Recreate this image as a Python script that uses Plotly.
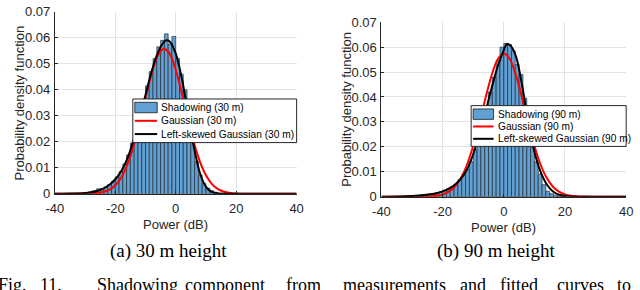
import numpy as np
import plotly.graph_objects as go

# ---------------- data ----------------
bin_width = 1.25
bin_centers = np.arange(-35.625, 20, 1.25)

hist_30m = [0.0001, 0.0001, 0.0002, 0.0002, 0.0003, 0.0005, 0.0008, 0.0012, 0.0019, 0.0020,
            0.0026, 0.0036, 0.0048, 0.0065, 0.0085, 0.0115, 0.0150, 0.0195, 0.0240, 0.0300,
            0.0350, 0.0415, 0.0470, 0.0520, 0.0565, 0.0590, 0.0615, 0.0575, 0.0605, 0.0520,
            0.0460, 0.0400, 0.0300, 0.0205, 0.0125, 0.0072, 0.0040, 0.0022, 0.0012, 0.0006,
            0.0003, 0.0002, 0.0001, 0.0001, 0.0000]

hist_90m = [0.0000, 0.0001, 0.0001, 0.0002, 0.0002, 0.0004, 0.0004, 0.0006, 0.0008, 0.0009,
            0.0010, 0.0016, 0.0020, 0.0026, 0.0030, 0.0040, 0.0050, 0.0068, 0.0088, 0.0110,
            0.0140, 0.0190, 0.0230, 0.0285, 0.0360, 0.0420, 0.0480, 0.0545, 0.0600, 0.0615,
            0.0610, 0.0585, 0.0530, 0.0490, 0.0395, 0.0290, 0.0200, 0.0140, 0.0090, 0.0048,
            0.0022, 0.0012, 0.0006, 0.0003, 0.0001]

gauss_30m_x = [-40, -30, -26, -24, -22, -20, -18, -16, -14, -12, -10, -8, -6, -4, -2, 0,
               2, 4, 6, 8, 10, 12, 14, 16, 18, 20, 22, 26, 30, 40]
gauss_30m_y = [0, 0.00003, 0.00027, 0.00068, 0.00155, 0.00327, 0.0063, 0.0112, 0.0181, 0.0270,
               0.0368, 0.0461, 0.0530, 0.0558, 0.0539, 0.0477, 0.0388, 0.0289, 0.0197, 0.0124,
               0.0071, 0.00375, 0.00181, 0.0008, 0.00033, 0.00012, 0.00004, 0, 0, 0]

skew_30m_x = [-40, -34, -30, -28, -26, -24, -22, -20, -18, -16, -14, -12, -10, -8, -6, -4, -3,
              -2, 0, 2, 4, 6, 8, 10, 12, 14, 16, 20, 40]
skew_30m_y = [0, 0.0001, 0.0003, 0.0006, 0.0011, 0.0020, 0.0034, 0.0056, 0.0088, 0.0135,
              0.0205, 0.0290, 0.0380, 0.0470, 0.0540, 0.0582, 0.0590, 0.0586, 0.0540, 0.0445,
              0.0315, 0.0180, 0.0080, 0.0027, 0.0007, 0.0001, 0, 0, 0]

gauss_90m_x = [-40, -30, -26, -24, -22, -20, -18, -16, -14, -12, -10, -8, -6, -4, -2, 0,
               2, 4, 6, 8, 10, 12, 14, 16, 18, 20, 22, 24, 26, 30, 40]
gauss_90m_y = [0, 0, 0.00005, 0.00015, 0.00038, 0.00091, 0.0020, 0.00406, 0.00755, 0.0129,
               0.0204, 0.0296, 0.0395, 0.0486, 0.0551, 0.0574, 0.0551, 0.0486, 0.0395, 0.0296,
               0.0204, 0.0129, 0.00755, 0.00406, 0.0020, 0.00091, 0.00038, 0.00015, 0.00005, 0, 0]

skew_90m_x = [-40, -34, -30, -26, -22, -20, -18, -16, -14, -12, -10, -8, -6, -4, -2, 0, 1,
              2, 4, 6, 8, 10, 12, 14, 16, 18, 20, 22, 24, 40]
skew_90m_y = [0, 0.0001, 0.0003, 0.0007, 0.0014, 0.0021, 0.0032, 0.0048, 0.0072, 0.0110,
              0.0170, 0.0250, 0.0340, 0.0435, 0.0522, 0.0588, 0.0612, 0.0608, 0.0562, 0.0445,
              0.0300, 0.0180, 0.0100, 0.0050, 0.0022, 0.0008, 0.0003, 0.0001, 0, 0]

x_tickvals = [-40, -20, 0, 20, 40]
x_ticktext = ["-40", "-20", "0", "20", "40"]
y_tickvals = [0, 0.01, 0.02, 0.03, 0.04, 0.05, 0.06, 0.07]
y_ticktext = ["0", "0.01", "0.02", "0.03", "0.04", "0.05", "0.06", "0.07"]

labels_30m = ["Shadowing (30 m)", "Gaussian (30 m)", "Left-skewed Gaussian (30 m)"]
labels_90m = ["Shadowing (90 m)", "Gaussian (90 m)", "Left-skewed Gaussian (90 m)"]
captions = ["(a) 30 m height", "(b) 90 m height"]
fig_caption_words = ["Fig.", "11.", "Shadowing", "component", "from", "measurements",
                     "and", "fitted", "curves", "to"]

# ---------------- styling ----------------
W, H = 640, 290
BAR_COLOR = "rgb(96,160,212)"
AX_COLOR = "#262626"
GRID_COLOR = "#e3e3e3"
SANS = "Liberation Sans, Arial, sans-serif"
SERIF = "Liberation Serif, Times New Roman, serif"


def px(x):
    return x / W


def py(y):
    return 1 - y / H


fig = go.Figure()

panels = [
    dict(xa="x", ya="y", hist=hist_30m, gx=gauss_30m_x, gy=gauss_30m_y, sx=skew_30m_x, sy=skew_30m_y),
    dict(xa="x2", ya="y2", hist=hist_90m, gx=gauss_90m_x, gy=gauss_90m_y, sx=skew_90m_x, sy=skew_90m_y),
]

for p in panels:
    fig.add_trace(go.Bar(x=bin_centers, y=p["hist"], width=bin_width,
                         marker=dict(color=BAR_COLOR, line=dict(color="#1a1a1a", width=0.6)),
                         xaxis=p["xa"], yaxis=p["ya"], showlegend=False, hoverinfo="skip"))
    fig.add_trace(go.Scatter(x=p["gx"], y=p["gy"], mode="lines",
                             line=dict(color="#ff0000", width=2, shape="spline", smoothing=0.8),
                             xaxis=p["xa"], yaxis=p["ya"], showlegend=False, hoverinfo="skip"))
    fig.add_trace(go.Scatter(x=p["sx"], y=p["sy"], mode="lines",
                             line=dict(color="#000000", width=2, shape="spline", smoothing=0.8),
                             xaxis=p["xa"], yaxis=p["ya"], showlegend=False, hoverinfo="skip"))

# axes geometry (pixels)
geo = [dict(x0=47, x1=295, ytop=5, ybot=197), dict(x0=382, x1=633, ytop=16, ybot=200)]

axis_common = dict(showgrid=True, gridcolor=GRID_COLOR, gridwidth=1, zeroline=False,
                   showline=True, linecolor=AX_COLOR, linewidth=1, ticks="inside",
                   ticklen=3, tickcolor=AX_COLOR, tickfont=dict(family=SANS, size=13, color=AX_COLOR))

layout_axes = {}
for i, g in enumerate(geo):
    sfx = "" if i == 0 else "2"
    layout_axes["xaxis" + sfx] = dict(axis_common, domain=[px(g["x0"]), px(g["x1"])],
                                      range=[-40, 40], tickvals=x_tickvals, ticktext=x_ticktext,
                                      anchor="y" + sfx, ticklabelstandoff=3)
    layout_axes["yaxis" + sfx] = dict(axis_common, domain=[py(g["ybot"]), py(g["ytop"])],
                                      range=[0, 0.07], tickvals=y_tickvals, ticktext=y_ticktext,
                                      anchor="x" + sfx, ticklabelstandoff=1)

fig.update_layout(**layout_axes)

annotations = []
shapes = []

# axis titles
for i, g in enumerate(geo):
    cx = (g["x0"] + g["x1"]) / 2
    annotations.append(dict(text="Power (dB)", x=px(cx), y=py(g["ybot"] + 32), xref="paper", yref="paper",
                            xanchor="center", yanchor="middle", showarrow=False,
                            font=dict(family=SANS, size=13, color=AX_COLOR)))
    annotations.append(dict(text="Probability density function", x=px(11 if i == 0 else 346),
                            y=py((g["ytop"] + g["ybot"]) / 2), xref="paper", yref="paper",
                            xanchor="center", yanchor="middle", showarrow=False, textangle=-90,
                            font=dict(family=SANS, size=13, color=AX_COLOR)))

# manual legends (matching MATLAB legend layout)
legends = [
    dict(box=(127, 97, 295, 143), rows=(106, 120, 134), sym=(129, 152), tx=154, labels=labels_30m),
    dict(box=(474, 104, 633, 147), rows=(113, 126, 139), sym=(476, 497), tx=499, labels=labels_90m),
]
for lg in legends:
    bx0, by0, bx1, by1 = lg["box"]
    shapes.append(dict(type="rect", xref="paper", yref="paper", x0=px(bx0), x1=px(bx1),
                       y0=py(by1), y1=py(by0), fillcolor="white", line=dict(color=AX_COLOR, width=1),
                       layer="above"))
    s0, s1 = lg["sym"]
    r0, r1, r2 = lg["rows"]
    shapes.append(dict(type="rect", xref="paper", yref="paper", x0=px(s0), x1=px(s1),
                       y0=py(r0 + 5.5), y1=py(r0 - 5.5), fillcolor=BAR_COLOR,
                       line=dict(color="#1a1a1a", width=0.8), layer="above"))
    shapes.append(dict(type="line", xref="paper", yref="paper", x0=px(s0), x1=px(s1),
                       y0=py(r1), y1=py(r1), line=dict(color="#ff0000", width=2), layer="above"))
    shapes.append(dict(type="line", xref="paper", yref="paper", x0=px(s0), x1=px(s1),
                       y0=py(r2), y1=py(r2), line=dict(color="#000000", width=2), layer="above"))
    for lab, ry in zip(lg["labels"], lg["rows"]):
        annotations.append(dict(text=lab, x=px(lg["tx"]), y=py(ry), xref="paper", yref="paper",
                                xanchor="left", yanchor="middle", showarrow=False,
                                font=dict(family=SANS, size=10.2, color="black")))

# sub-captions
for cap, cx in zip(captions, [163.5, 499]):
    annotations.append(dict(text=cap, x=px(cx), y=py(257), xref="paper", yref="paper",
                            xanchor="center", yanchor="middle", showarrow=False,
                            font=dict(family=SERIF, size=19, color="black")))

# figure caption (cut off at bottom, justified words)
word_x = [21, 30, 88, 178, 282, 340, 460, 502, 560, 622]
for k, (wd, wx) in enumerate(zip(fig_caption_words, word_x)):
    annotations.append(dict(text=wd, x=px(wx), y=py(281), xref="paper", yref="paper",
                            xanchor="right" if k == 0 else "left", yanchor="top", showarrow=False,
                            font=dict(family=SERIF, size=18, color="black")))

fig.update_layout(width=W, height=H, margin=dict(l=0, r=0, t=0, b=0),
                  paper_bgcolor="white", plot_bgcolor="white", bargap=0,
                  showlegend=False, annotations=annotations, shapes=shapes)

fig.write_html("out.html", config={"displayModeBar": False, "staticPlot": True},
               post_script="document.body.style.margin='0';document.body.style.padding='0';"
                           "document.documentElement.style.overflow='hidden';")
